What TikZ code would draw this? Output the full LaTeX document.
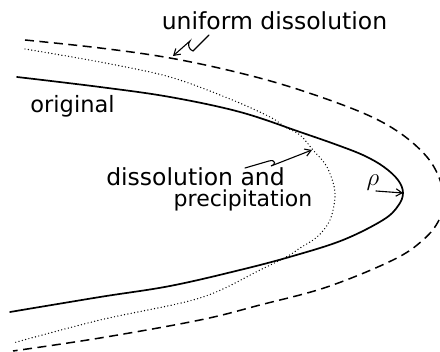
\documentclass[tikz,border=0pt]{standalone}
\usepackage{fontspec}
\setmainfont{DejaVu Sans}
\usetikzlibrary{arrows.meta}
\tikzset{
  curvesolid/.style={line width=1.7pt, line cap=round},
  curvedash/.style={line width=1.5pt, dash pattern=on 9pt off 5.5pt},
  curvedot/.style={line width=1.4pt, line cap=round, dash pattern=on 0pt off 3.4pt},
  lbl/.style={inner sep=0pt, anchor=base},
  leader/.style={line width=1.1pt, line cap=round, -{Straight Barb[length=6pt,width=7.5pt,line width=1.1pt]}},
}
\begin{document}
\begin{tikzpicture}[x=1pt,y=-1pt]
\useasboundingbox (0,0) rectangle (440,352);
\clip (0,0) rectangle (440,352);
% original
\draw[curvesolid] plot[smooth, tension=0.6] coordinates {
 (17,77) (100,87) (170,97) (240,112) (300,132) (340,146) (365,156) (384,167) (398,180) (403,193)
 (398,206) (383,220) (343,240) (293,256) (240,270) (170,286) (100,297) (10,312)};
% uniform dissolution
\draw[curvedash] plot[smooth, tension=0.6] coordinates {
 (25,40) (100,48) (170,58) (240,73) (300,90) (363,113) (400,133) (427,157) (440,180) (443,199)
 (439,220) (423,240) (393,260) (327,287) (260,305) (200,320) (100,338) (13,351)};
% dissolution and precipitation
\draw[curvedot] plot[smooth, tension=0.55] coordinates {
 (25,49) (100,62) (170,77) (230,99) (270,117) (285,127) (300,135) (313,150) (327,167) (335,193)
 (330,220) (317,237) (300,248) (288,256) (260,270) (200,298) (100,320) (13,343)};
% labels
\node[lbl] (uni) at (274.5,30) {\fontsize{23.5}{28}\selectfont uniform dissolution};
\node[lbl] (orig) at (72.5,113) {\fontsize{22.5}{27}\selectfont original};
\node[lbl] (dp1) at (195.5,186) {\fontsize{23.5}{28}\selectfont dissolution and};
\node[lbl] (dp2) at (243,207) {\fontsize{22}{26}\selectfont precipitation};
\node[lbl] (rho) at (373,186) {\fontsize{27}{30}\selectfont$\rho$};
% leader arrows
\coordinate (u0) at (209,35);
\coordinate (u1) at (193,51);
\coordinate (u2) at (190,41);
\coordinate (ut) at (173,56);
\draw[leader] (u0) -- (u1) .. controls (189,50) and (187,44) .. (u2) -- (ut);
\coordinate (a0) at (245,168);
\coordinate (a1) at (269,161);
\coordinate (a2) at (271,166);
\coordinate (at) at (312,150);
\draw[leader] (a0) -- (a1) .. controls (276,159) and (276,165) .. (a2) -- (at);
\coordinate (r0) at (376,191);
\coordinate (rt) at (403,193);
\draw[leader] (r0) -- (rt);
\end{tikzpicture}
\end{document}
